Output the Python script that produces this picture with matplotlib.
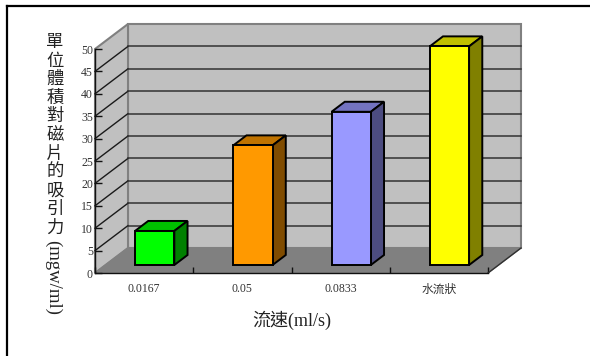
import matplotlib
matplotlib.use('Agg')
import matplotlib.pyplot as plt
from matplotlib.patches import Polygon
from matplotlib.lines import Line2D

categories = ['0.0167', '0.05', '0.0833', '水流狀']
values = [7.6, 26.7, 34.2, 48.8]
front_colors = ['#00FF00', '#FF9900', '#9999FF', '#FFFF00']
top_colors = ['#00C000', '#C07300', '#7373C0', '#C0C000']
side_colors = ['#008000', '#804C00', '#4C4C80', '#808000']
y_ticks = list(range(0, 55, 5))

W, H = 590, 356
plt.rcParams['font.family'] = ['Liberation Serif', 'Noto Sans CJK TC']

fig = plt.figure(figsize=(W / 100, H / 100), dpi=100)
ax = fig.add_axes([95 / W, 1 - 273 / H, 393 / W, 224 / H])
ax.set_xlim(0, 4)
ax.set_ylim(0, 50)
ax.patch.set_visible(False)

# depth of the box, in data units of the front plane
DX = 33 / 393 * 4
DY = 25 / 224 * 50


def proj(x, y, d):
    return (x + d * DX, y + d * DY)


def face(points, color, edge, lw=1.0, z=1):
    ax.add_patch(Polygon([proj(*p) for p in points], closed=True, facecolor=color,
                         edgecolor=edge, linewidth=lw, zorder=z, clip_on=False,
                         joinstyle='miter'))


# walls and floor
face([(0, 0, 1), (4, 0, 1), (4, 50, 1), (0, 50, 1)], '#C0C0C0', '#808080', 1.5)
face([(0, 0, 0), (0, 0, 1), (0, 50, 1), (0, 50, 0)], '#C0C0C0', '#808080', 1.5)
face([(0, 0, 0), (4, 0, 0), (4, 0, 1), (0, 0, 1)], '#808080', '#808080', 1.0, z=1.5)

# gridlines across the back wall and the side wall
for v in y_ticks[1:-1]:
    x0, y0 = proj(0, v, 0)
    x1, y1 = proj(0, v, 1)
    x2, y2 = proj(4, v, 1)
    ax.plot([x0, x1], [y0, y1], color='#1a1a1a', lw=1.0, zorder=1.2, clip_on=False)
    ax.plot([x1, x2], [y1, y2], color='#333333', lw=1.1, zorder=1.2, clip_on=False)
x0, y0 = proj(4, 0, 0)
x1, y1 = proj(4, 0, 1)
ax.plot([x0, x1], [y0, y1], color='#303030', lw=1.0, zorder=1.6, clip_on=False)

# 3D bars
bar_w = 0.4
d0, d1 = 0.32, 0.72
for i, v in enumerate(values):
    l = i + 0.5 - bar_w / 2
    r = i + 0.5 + bar_w / 2
    face([(l, v, d0), (r, v, d0), (r, v, d1), (l, v, d1)], top_colors[i], 'black', 1.4, z=3)
    face([(r, 0, d0), (r, 0, d1), (r, v, d1), (r, v, d0)], side_colors[i], 'black', 1.4, z=3)
    face([(l, 0, d0), (r, 0, d0), (r, v, d0), (l, v, d0)], front_colors[i], 'black', 1.4, z=4)

for s in ['top', 'right']:
    ax.spines[s].set_visible(False)
for s in ['left', 'bottom']:
    ax.spines[s].set_linewidth(1.0)
    ax.spines[s].set_color('#111111')
    ax.spines[s].set_zorder(5)

ax.set_yticks(y_ticks)
ax.set_yticklabels([str(t) for t in y_ticks], fontsize=8.5, color='#333333')
ax.tick_params(axis='y', direction='in', length=5, width=1, pad=1.5, color='#111111')
ax.set_xticks(range(5))
ax.set_xticklabels([])
ax.tick_params(axis='x', which='major', direction='in', length=4, width=1, color='#111111')
ax.set_xticks([i + 0.5 for i in range(4)], minor=True)
ax.set_xticklabels(categories, minor=True, fontsize=8.5, color='#333333')
ax.tick_params(axis='x', which='minor', length=0, pad=7.5)

# axis titles
fig.text(291.5 / W, 1 - 320 / H, '流速(ml/s)', fontsize=13, ha='center', va='center', color='#222222')
ylabel_chars = '單位體積對磁片的吸引力'
for i, ch in enumerate(ylabel_chars):
    fig.text(55 / W, 1 - (43 + i * 18.6) / H, ch, fontsize=12.5, ha='center', va='center', color='#222222')
fig.text(53 / W, 1 - 278 / H, '(mgw/ml)', fontsize=13.5, rotation=270, ha='center', va='center', color='#222222')

# page border on the top and left edges
fig.add_artist(Line2D([7 / W, 1], [1 - 5.8 / H] * 2, color='black', lw=1.6))
fig.add_artist(Line2D([7 / W, 7 / W], [1 - 5.8 / H, 0], color='black', lw=1.6))

fig.savefig('out.png', dpi=100)
